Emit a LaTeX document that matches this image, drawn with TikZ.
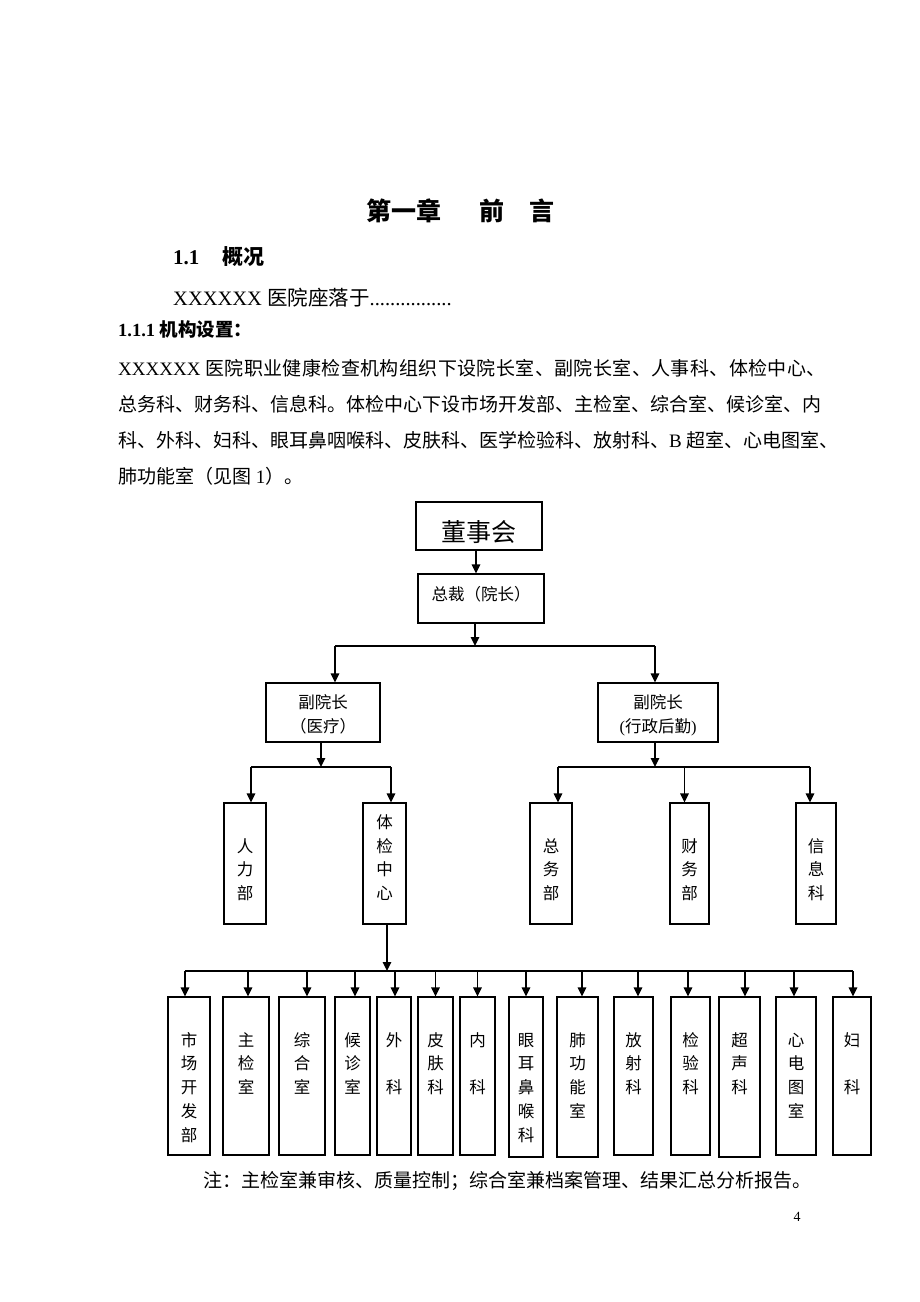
\documentclass[tikz,border=0pt]{standalone}
\usepackage{fontspec}
\setmainfont{Noto Sans CJK SC}
\newfontfamily\lat{Liberation Serif}
\newfontfamily\cjkwide[LetterSpace=2.1]{Noto Sans CJK SC}
\usetikzlibrary{arrows.meta}
\tikzset{
  box/.style={draw, line width=1.3pt, inner sep=0pt},
  arr/.style={line width=1.5pt, -{Triangle[length=9pt,width=8.5pt]}},
  ln/.style={line width=1.5pt},
  txt/.style={anchor=base west, inner sep=0pt}
}
% name, x1, y1, x2, y2, font size, first-line strut height, text
\newcommand\bx[8]{%
  \pgfmathsetmacro\bxw{#4-#2}%
  \pgfmathsetmacro\bxh{#5-#3}%
  \node[box, minimum width=\bxw pt, minimum height=\bxh pt] (#1) at ({(#2+#4)/2},{(#3+#5)/2})
   {\parbox[c][\bxh pt][t]{\bxw pt}{\centering\fontsize{#6}{23.8}\selectfont\rule{0pt}{#7pt}#8}};%
}
\begin{document}
\begin{tikzpicture}[x=1pt,y=-1pt]
\useasboundingbox[fill=white] (0,0) rectangle (920,1302);

% ---------- text ----------
\node[txt, font=\fontsize{25}{30}\selectfont\bfseries] (title) at (366,220.5) {第一章\hspace{38pt}前\hspace{25pt}言};
\node[txt, font=\fontsize{21}{25}\selectfont\bfseries] (h11) at (173,264) {{\lat\bfseries 1.1}\hspace{23pt}概况};
\node[txt, font=\fontsize{20.5}{25}\selectfont] (loc) at (173,305) {{\lat XXXXXX }医院座落于{\lat ................}};
\node[txt, font=\fontsize{18.5}{22}\selectfont\bfseries] (h111) at (118,336) {{\lat\bfseries 1.1.1 }机构设置：};
\node[txt, font=\fontsize{19}{23}\selectfont] (p1) at (118,375) {{\lat XXXXXX }{\cjkwide 医院职业健康检查机构组织下设院长室、副院长室、人事科、体检中心、}};
\node[txt, font=\fontsize{19}{23}\selectfont] (p2) at (118,411) {总务科、财务科、信息科。体检中心下设市场开发部、主检室、综合室、候诊室、内};
\node[txt, font=\fontsize{19}{23}\selectfont] (p3) at (118,447) {科、外科、妇科、眼耳鼻咽喉科、皮肤科、医学检验科、放射科、{\lat B }超室、心电图室、};
\node[txt, font=\fontsize{19}{23}\selectfont] (p4) at (118,483) {肺功能室（见图{\lat\ 1}）。};
\node[txt, font=\fontsize{19}{23}\selectfont] (note) at (203,1187) {注：主检室兼审核、质量控制；综合室兼档案管理、结果汇总分析报告。};
\node[anchor=base, inner sep=0pt, font=\lat\fontsize{14}{16}\selectfont] (pg) at (797,1221) {4};

% ---------- boxes ----------
\bx{dsh}{416}{502}{542}{550}{25}{39.5}{董事会}
\bx{zc}{418}{574}{544}{623}{16.5}{26.3}{总裁（院长）}
\bx{fy1}{266}{683}{380}{742}{16.5}{25.3}{副院长\\（医疗）}
\bx{fy2}{598}{683}{718}{742}{16.5}{25.3}{副院长\\{\lat(}行政后勤{\lat)}}

\bx{rl}{224}{803}{266}{924}{16.5}{25.3}{\\人\\力\\部}
\bx{tj}{363}{803}{406}{924}{16.5}{25.3}{体\\检\\中\\心}
\bx{zw}{530}{803}{572}{924}{16.5}{25.3}{\\总\\务\\部}
\bx{cw}{670}{803}{709}{924}{16.5}{25.3}{\\财\\务\\部}
\bx{xx}{796}{803}{836}{924}{16.5}{25.3}{\\信\\息\\科}

\bx{sc}{168}{997}{210}{1155}{16.5}{25.3}{\\市\\场\\开\\发\\部}
\bx{zj}{223}{997}{269}{1155}{16.5}{25.3}{\\主\\检\\室}
\bx{zh}{279}{997}{325}{1155}{16.5}{25.3}{\\综\\合\\室}
\bx{hz}{335}{997}{370}{1155}{16.5}{25.3}{\\候\\诊\\室}
\bx{wk}{377}{997}{411}{1155}{16.5}{25.3}{\\外\\\mbox{}\\科}
\bx{pf}{418}{997}{453}{1155}{16.5}{25.3}{\\皮\\肤\\科}
\bx{nk}{460}{997}{495}{1155}{16.5}{25.3}{\\内\\\mbox{}\\科}
\bx{ye}{509}{997}{543}{1157}{16.5}{25.3}{\\眼\\耳\\鼻\\喉\\科}
\bx{fg}{557}{997}{598}{1157}{16.5}{25.3}{\\肺\\功\\能\\室}
\bx{fs}{614}{997}{653}{1155}{16.5}{25.3}{\\放\\射\\科}
\bx{jy}{671}{997}{710}{1155}{16.5}{25.3}{\\检\\验\\科}
\bx{cs}{719}{997}{760}{1157}{16.5}{25.3}{\\超\\声\\科}
\bx{xd}{776}{997}{816}{1155}{16.5}{25.3}{\\心\\电\\图\\室}
\bx{fk}{833}{997}{871}{1155}{16.5}{25.3}{\\妇\\\mbox{}\\科}

% ---------- connectors ----------
\coordinate (b1) at (0,646);
\coordinate (b2) at (0,767);
\coordinate (b3) at (0,971);

\draw[arr] ([xshift=-3pt]dsh.south) -- ([xshift=-3pt]dsh.south |- zc.north);
\draw[arr] ([xshift=-6pt]zc.south) -- ([xshift=-6pt]zc.south |- b1);
\draw[ln] ([xshift=12pt]fy1.north |- b1) -- ([xshift=-3pt]fy2.north |- b1);
\draw[arr] ([xshift=12pt]fy1.north |- b1) -- ([xshift=12pt]fy1.north);
\draw[arr] ([xshift=-3pt]fy2.north |- b1) -- ([xshift=-3pt]fy2.north);

\draw[arr] ([xshift=-2pt]fy1.south) -- ([xshift=-2pt]fy1.south |- b2);
\draw[ln] ([xshift=6pt]rl.north |- b2) -- ([xshift=6.5pt]tj.north |- b2);
\draw[arr] ([xshift=6pt]rl.north |- b2) -- ([xshift=6pt]rl.north);
\draw[arr] ([xshift=6.5pt]tj.north |- b2) -- ([xshift=6.5pt]tj.north);

\draw[arr] ([xshift=-3pt]fy2.south) -- ([xshift=-3pt]fy2.south |- b2);
\draw[ln] ([xshift=7pt]zw.north |- b2) -- ([xshift=-6pt]xx.north |- b2);
\draw[arr] ([xshift=7pt]zw.north |- b2) -- ([xshift=7pt]zw.north);
\draw[arr] ([xshift=-5pt]cw.north |- b2) -- ([xshift=-5pt]cw.north);
\draw[arr] ([xshift=-6pt]xx.north |- b2) -- ([xshift=-6pt]xx.north);

\draw[arr] ([xshift=2.5pt]tj.south) -- ([xshift=2.5pt]tj.south |- b3);
\draw[ln] ([xshift=-4pt]sc.north |- b3) -- ([xshift=1pt]fk.north |- b3);
\foreach \n/\s in {sc/-4, zj/2, zh/5, hz/2.5, wk/1, pf/0, nk/0, ye/0, fg/4.5, fs/4.5, jy/-2.5, cs/5.5, xd/-2, fk/1}
  \draw[arr] ([xshift=\s pt]\n.north |- b3) -- ([xshift=\s pt]\n.north);
\end{tikzpicture}
\end{document}
